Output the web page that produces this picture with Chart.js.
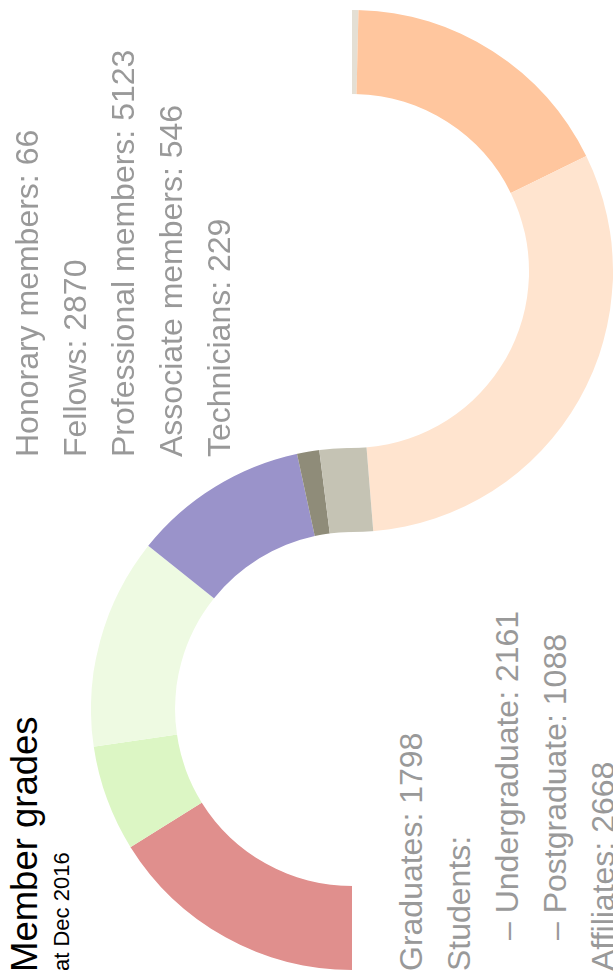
<!DOCTYPE html>
<html>
<head>
<meta charset="utf-8">
<title>Member grades</title>
<script src="https://cdn.jsdelivr.net/npm/chart.js@4.4.0/dist/chart.umd.min.js"></script>
<style>
    html, body { margin: 0; padding: 0; background: #fff; overflow: hidden; }
    body { width: 613px; height: 972px; position: relative; }

    /* chart is laid out landscape, then turned a quarter to the left */
    #stage {
        position: absolute;
        left: 0;
        top: 0;
        width: 972px;
        height: 613px;
        overflow: hidden;
        transform-origin: 0 0;
        transform: translate(0, 972px) rotate(-90deg);
        font-family: "Liberation Sans", Arial, Helvetica, sans-serif;
    }

    .half { position: absolute; width: 522px; height: 261px; overflow: hidden; }
    .half canvas { position: absolute; left: 0; }
    #half-right { left: 440px; top: 352px; }
    #half-right canvas { top: -261px; }
    #half-left { left: 2px; top: 91px; }
    #half-left canvas { top: 0; }

    h1 { position: absolute; left: 0; top: 7px; margin: 0; font-size: 36.5px; line-height: 36.5px; font-weight: normal; color: #000; }
    .subtitle { position: absolute; left: 1px; top: 51px; font-size: 22px; line-height: 22px; color: #000; }

    .list { position: absolute; margin: 0; padding: 0; list-style: none; font-size: 32px; line-height: 48px; color: #999; white-space: nowrap; }
    #list-right { left: 515px; top: 3px; }
    #list-left { left: 1px; top: 387px; }
    .list .indent { padding-left: 31px; }
</style>
</head>
<body>
<div id="stage">
    <h1>Member grades</h1>
    <div class="subtitle">at Dec 2016</div>

    <div class="half" id="half-right"><canvas id="ring-right" width="522" height="522"></canvas></div>
    <div class="half" id="half-left"><canvas id="ring-left" width="522" height="522"></canvas></div>

    <ul class="list" id="list-right"></ul>
    <ul class="list" id="list-left"></ul>
</div>

<script>
"use strict";

// Data
const grades = ['Honorary members', 'Fellows', 'Professional members', 'Associate members', 'Technicians',
    'Graduates', 'Undergraduate', 'Postgraduate', 'Affiliates'];
const members = [66, 2870, 5123, 546, 229, 1798, 2161, 1088, 2668];
const gradeColors = ['#e4dfd4', '#ffc69e', '#ffe4cf', '#c5c3b4', '#8f8c79',
    '#9a93ca', '#eefae2', '#dcf6c4', '#e08f8d'];

const rightGroup = [0, 1, 2, 3, 4];
const studentsHeading = 'Students:';
const studentGroup = [6, 7];

var InitGrades = function () {

    // one full ring per canvas, the half outside the box is clipped away
    var halfRing = function (canvasId, order, rotation) {
        const ctx = document.getElementById(canvasId).getContext('2d');

        return new Chart(ctx, {
            type: 'doughnut',
            data: {
                labels: order.map(i => grades[i]),
                datasets: [{
                    data: order.map(i => members[i]),
                    backgroundColor: order.map(i => gradeColors[i]),
                    borderWidth: 0,
                    hoverOffset: 0
                }]
            },
            options: {
                responsive: false,
                animation: false,
                rotation: rotation,
                cutout: '67.8%',
                layout: { padding: 0 },
                plugins: {
                    legend: { display: false },
                    tooltip: { enabled: false }
                }
            }
        });
    };

    var addItem = function (list, text, indent) {
        const li = document.createElement('li');
        li.textContent = text;
        if (indent) {
            li.className = 'indent';
        }
        list.appendChild(li);
    };

    var legends = function () {
        const right = document.getElementById('list-right');
        const left = document.getElementById('list-left');

        rightGroup.forEach(i => addItem(right, grades[i] + ': ' + members[i]));

        addItem(left, grades[5] + ': ' + members[5]);
        addItem(left, studentsHeading);
        studentGroup.forEach(i => addItem(left, '\u2013 ' + grades[i] + ': ' + members[i], true));
        addItem(left, grades[8] + ': ' + members[8]);
    };

    return {
        init: function () {
            const all = members.map((v, i) => i);

            halfRing('ring-right', all, 90);
            halfRing('ring-left', all.slice().reverse(), -90);
            legends();
        }
    };
}();

InitGrades.init();
</script>
</body>
</html>
